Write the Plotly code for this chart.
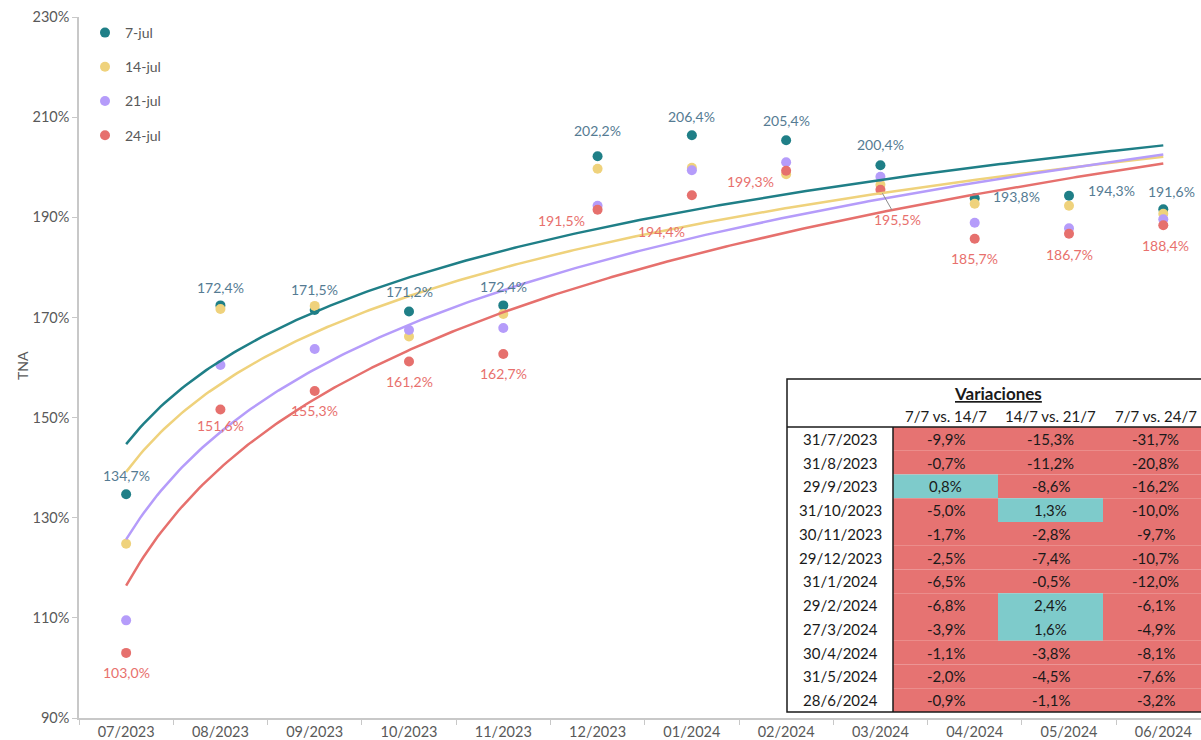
import numpy as np
import plotly.graph_objects as go

# ---------------- data ----------------
months = ["07/2023", "08/2023", "09/2023", "10/2023", "11/2023", "12/2023",
          "01/2024", "02/2024", "03/2024", "04/2024", "05/2024", "06/2024"]
series_names = ["7-jul", "14-jul", "21-jul", "24-jul"]
tna_7jul = [134.7, 172.4, 171.5, 171.2, 172.4, 202.2, 206.4, 205.4, 200.4, 193.8, 194.3, 191.6]
tna_14jul = [124.8, 171.7, 172.3, 166.2, 170.7, 199.7, 199.9, 198.6, 196.5, 192.7, 192.3, 190.7]
tna_21jul = [109.5, 160.5, 163.7, 167.5, 167.9, 192.3, 199.4, 201.0, 198.1, 188.9, 187.8, 189.6]
tna_24jul = [103.0, 151.6, 155.3, 161.2, 162.7, 191.5, 194.4, 199.3, 195.5, 185.7, 186.7, 188.4]
y_ticks = [90, 110, 130, 150, 170, 190, 210, 230]

table_title = "Variaciones"
table_cols = ["7/7 vs. 14/7", "14/7 vs. 21/7", "7/7 vs. 24/7"]
table_dates = ["31/7/2023", "31/8/2023", "29/9/2023", "31/10/2023", "30/11/2023", "29/12/2023",
               "31/1/2024", "29/2/2024", "27/3/2024", "30/4/2024", "31/5/2024", "28/6/2024"]
var_7_14 = [-9.9, -0.7, 0.8, -5.0, -1.7, -2.5, -6.5, -6.8, -3.9, -1.1, -2.0, -0.9]
var_14_21 = [-15.3, -11.2, -8.6, 1.3, -2.8, -7.4, -0.5, 2.4, 1.6, -3.8, -4.5, -1.1]
var_7_24 = [-31.7, -20.8, -16.2, -10.0, -9.7, -10.7, -12.0, -6.1, -4.9, -8.1, -7.6, -3.2]

# ---------------- styles ----------------
colors = ["#1f7f87", "#efd27c", "#b59cfa", "#e6706d"]
label_teal = "#557b93"
label_red = "#e8706d"
neg_fill = "#e67372"
pos_fill = "#7ecbcb"
FONT = "Lato"
TXT = "#595959"
INK = "#1a1a1a"

FIG_W, FIG_H = 1201, 740
L, T, B, R_ = 79, 17, 718, 1201          # plot area in pixels
W, H = R_ - L, B - T

def px(xw):
    return (xw - L) / W

def py(yw):
    return (B - yw) / H

all_series = [tna_7jul, tna_14jul, tna_21jul, tna_24jul]

fig = go.Figure()

# Logarithmic trend lines (least squares fit of y = a*ln(x) + b)
xs = np.linspace(0, 11, 300)
for vals, col in zip(all_series, colors):
    lx = np.log(np.arange(1, len(vals) + 1))
    a, b = np.polyfit(lx, np.array(vals), 1)
    fig.add_trace(go.Scatter(x=xs, y=a * np.log(xs + 1) + b, mode="lines",
                             line=dict(color=col, width=2.5), xaxis="x2", yaxis="y",
                             showlegend=False, hoverinfo="skip"))

# Dots
for name, vals, col in zip(series_names, all_series, colors):
    fig.add_trace(go.Scatter(x=months, y=vals, mode="markers", name=name,
                             legendgroup=name,
                             marker=dict(color=col, size=10), cliponaxis=False))

def fmt(v):
    return f"{v:.1f}".replace(".", ",") + "%"

annotations = []
teal_off = [(0, -19), (0, -18), (0, -20), (0, -20), (0, -19), (0, -26),
            (0, -19), (0, -20), (0, -21), (42, -2), (42, -5), (8, -18)]
red_off = [(0, 20), (0, 16), (0, 19), (0, 20), (0, 20), (-36, 11),
           (-30, 36), (-36, 11), (17, 28), (0, 20), (0, 21), (2, 20)]
for m, v, (dx, dy) in zip(months, tna_7jul, teal_off):
    annotations.append(dict(x=m, y=v, xref="x", yref="y", text=fmt(v), showarrow=False,
                            xanchor="center", yanchor="middle",
                            xshift=dx, yshift=-dy, font=dict(family=FONT, size=14, color=label_teal)))
for i, (m, v, (dx, dy)) in enumerate(zip(months, tna_24jul, red_off)):
    if i == 8:
        annotations.append(dict(x=m, y=v, xref="x", yref="y", text=fmt(v), showarrow=True,
                                ax=dx, ay=dy + 2, arrowhead=0, arrowwidth=1, arrowcolor="#8c8c8c",
                                standoff=4, font=dict(family=FONT, size=14, color=label_red)))
    else:
        annotations.append(dict(x=m, y=v, xref="x", yref="y", text=fmt(v), showarrow=False,
                                xanchor="center", yanchor="middle",
                                xshift=dx, yshift=-dy, font=dict(family=FONT, size=14, color=label_red)))

# y-axis title
annotations.append(dict(x=px(22), y=py(366), xref="paper", yref="paper", text="TNA",
                        xanchor="center", yanchor="middle",
                        textangle=-90, showarrow=False, font=dict(family=FONT, size=14, color=TXT)))

# ---------------- table ----------------
shapes = []
tab_left, tab_top, tab_bottom = 787, 379, 712
date_right = 893
col_w = 105
head_line = 427
row_h = (tab_bottom - head_line) / len(table_dates)
tab_right = date_right + col_w * len(table_cols)
TFS = 15

def cell_text(xc, yc, text, size=TFS):
    return dict(x=px(xc), y=py(yc), xref="paper", yref="paper", text=text, showarrow=False,
                xanchor="center", yanchor="middle", font=dict(family=FONT, size=size, color=INK))

shapes.append(dict(type="rect", xref="paper", yref="paper", x0=px(tab_left), x1=px(tab_right),
                   y0=py(tab_bottom), y1=py(tab_top), fillcolor="white", line=dict(width=0), layer="above"))
cols_vals = [var_7_14, var_14_21, var_7_24]
for r, d in enumerate(table_dates):
    y0 = head_line + r * row_h
    yc = y0 + row_h / 2
    annotations.append(cell_text((tab_left + date_right) / 2, yc, d))
    for c, vals in enumerate(cols_vals):
        v = vals[r]
        x0 = date_right + c * col_w
        shapes.append(dict(type="rect", xref="paper", yref="paper", x0=px(x0), x1=px(x0 + col_w),
                           y0=py(y0 + row_h), y1=py(y0),
                           fillcolor=pos_fill if v > 0 else neg_fill, line=dict(width=0), layer="above"))
        annotations.append(cell_text(x0 + col_w / 2, yc, fmt(v)))
for c, name in enumerate(table_cols):
    x0 = date_right + c * col_w
    annotations.append(cell_text(x0 + col_w / 2, 416, name))
annotations.append(cell_text(998, 393, "<b><u>" + table_title + "</u></b>", size=17))

shapes.append(dict(type="rect", xref="paper", yref="paper", x0=px(tab_left), x1=px(tab_right),
                   y0=py(tab_bottom), y1=py(tab_top), line=dict(color=INK, width=1.5), layer="above"))
shapes.append(dict(type="line", xref="paper", yref="paper", x0=px(tab_left), x1=px(tab_right),
                   y0=py(head_line), y1=py(head_line), line=dict(color=INK, width=1.5), layer="above"))
shapes.append(dict(type="line", xref="paper", yref="paper", x0=px(date_right), x1=px(date_right),
                   y0=py(tab_bottom), y1=py(head_line), line=dict(color=INK, width=1.5), layer="above"))

fig.update_layout(
    width=FIG_W, height=FIG_H,
    margin=dict(l=L, r=0, t=T, b=FIG_H - B),
    paper_bgcolor="white", plot_bgcolor="white",
    font=dict(family=FONT, color=TXT),
    showlegend=True,
    legend=dict(x=px(85), y=1.0, xanchor="left", yanchor="top", bgcolor="rgba(0,0,0,0)",
                font=dict(family=FONT, size=14, color=TXT), tracegroupgap=13, itemwidth=30),
    xaxis=dict(type="category", range=[-0.5, 11.4], showgrid=False, showline=True,
               linecolor="#c8c8c8", linewidth=1.5, ticks="outside", tickson="boundaries",
               ticklen=5, tickcolor="#c8c8c8", tickfont=dict(family=FONT, size=14.5, color=TXT),
               automargin=False, zeroline=False),
    xaxis2=dict(overlaying="x", range=[-0.5, 11.4], visible=False),
    yaxis=dict(range=[90, 230], tickvals=y_ticks, ticktext=[f"{t}%" for t in y_ticks],
               showgrid=False, showline=True, linecolor="#c8c8c8", linewidth=1.5,
               ticks="outside", ticklen=5, tickcolor="#c8c8c8", zeroline=False,
               tickfont=dict(family=FONT, size=14.5, color=TXT), automargin=False),
    annotations=annotations,
    shapes=shapes,
)

fig.write_html("out.html", config={"displayModeBar": False},
               post_script="document.body.style.margin='0';document.body.style.overflow='hidden';")
